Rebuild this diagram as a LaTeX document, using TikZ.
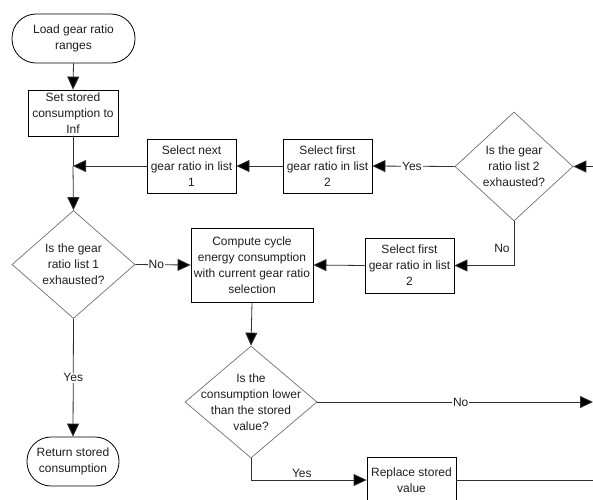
\documentclass[tikz,border=0pt]{standalone}
\usepackage{fontspec}
\setmainfont{Liberation Sans}
\usetikzlibrary{arrows.meta,shapes.geometric}
\definecolor{txt}{HTML}{1E1E28}
\definecolor{conn}{HTML}{303030}
\definecolor{dgray}{HTML}{707070}
\begin{document}
\begin{tikzpicture}[x=1pt,y=-1pt,
  font=\fontsize{12}{16}\selectfont, text=txt,
  box/.style={draw=black, line width=0.8pt, fill=white, align=center, inner sep=0pt},
  term/.style={box, rounded corners=24pt},
  dia/.style={draw=dgray, line width=0.7pt, diamond, inner sep=0pt},
  dtext/.style={align=center, inner sep=0pt},
  conn/.style={draw=conn, line width=0.8pt, -{Triangle[length=13pt,width=12pt,fill=black]}},
  plain/.style={draw=conn, line width=0.8pt},
  lab/.style={fill=white, inner sep=1pt}]
\useasboundingbox (0,0) rectangle (593,499);
\clip (0,0) rectangle (593,499);
% nodes
\node[term, minimum width=123pt, minimum height=49pt] (start) at (73.5,38.5) {Load gear ratio\\ranges};
\node[box, minimum width=90pt, minimum height=46pt] (setinf) at (73,113) {Set stored\\consumption to\\Inf};
\coordinate (j) at (73,166);
\node[box, minimum width=89pt, minimum height=54pt] (selnext) at (191.5,166) {Select next\\gear ratio in list\\1};
\node[box, minimum width=89pt, minimum height=54pt] (selfirstA) at (327.5,166) {Select first\\gear ratio in list\\2};
\node[dia, minimum width=118pt, minimum height=109pt] (d2) at (514,166.5) {};
\node[dtext] (d2t) at (d2.center) {Is the gear\\ratio list 2\\exhausted?};
\node[box, minimum width=89pt, minimum height=55pt] (selfirstB) at (409.5,265.5) {Select first\\gear ratio in list\\2};
\node[box, minimum width=122pt, minimum height=74pt] (compute) at (252,265) {Compute cycle\\energy consumption\\with current gear ratio\\selection};
\node[dia, minimum width=123pt, minimum height=108pt] (d1) at (73.5,264.5) {};
\node[dtext] (d1t) at (d1.center) {Is the gear\\ratio list 1\\exhausted?};
\node[term, minimum width=92pt, minimum height=49pt] (ret) at (73,461.5) {Return stored\\consumption};
\node[dia, minimum width=132pt, minimum height=112pt] (d3) at (251,402) {};
\node[dtext] (d3t) at (d3.center) {Is the\\consumption lower\\than the stored\\value?};
\node[box, minimum width=89pt, minimum height=46pt] (replace) at (411.5,480) {Replace stored\\value};
\coordinate (inR) at (600,166.5);
\coordinate (outNo) at (593,402);
\coordinate (outRep) at (600,480);
% connectors
\draw[conn] (start.south) -- (setinf.north);
\draw[plain] (setinf.south) -- (j);
\draw[conn] (j) -- (d1.north);
\draw[conn] (selnext.west) -- (j);
\draw[conn] (selfirstA.west) -- (selnext.east);
\draw[conn] (d2.west) -- node[lab, pos=0.52] {Yes} (selfirstA.east);
\draw[conn] (inR) -- (d2.east);
\draw[conn] (d2.south) |- node[pos=0.3, left, inner sep=1pt, xshift=-3pt, yshift=-1pt] {No} (selfirstB.east);
\draw[conn] (selfirstB.west) -- (compute.east);
\draw[conn] (d1.east) -- node[lab, pos=0.38] {No} (compute.west);
\draw[conn] (d1.south) -- node[lab, pos=0.5] {Yes} (ret.north);
\draw[conn] (compute.south) -- (d3.north);
\draw[conn] (d3.east) -- node[lab, pos=0.52] {No} (outNo);
\draw[conn] (d3.south) |- node[pos=0.72, above, inner sep=2pt] {Yes} (replace.west);
\draw[plain] (replace.east) -- (outRep);
\end{tikzpicture}
\end{document}
